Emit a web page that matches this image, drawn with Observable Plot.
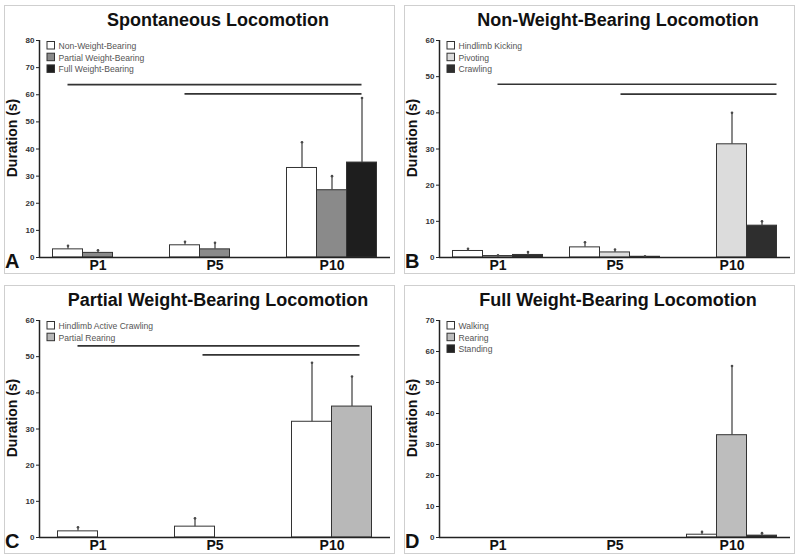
<!DOCTYPE html>
<html><head><meta charset="utf-8">
<script src="https://cdn.jsdelivr.net/npm/d3@7"></script>
<script src="https://cdn.jsdelivr.net/npm/@observablehq/plot@0.6"></script>
<style>
body{margin:0;background:#fff;}
#wrap{position:relative;width:800px;height:560px;}
#wrap > svg{position:absolute;overflow:visible;}
</style></head><body><div id="wrap"></div>
<script>
const ages = ["P1", "P5", "P10"];

// Panel A
const seriesA = ["Non-Weight-Bearing", "Partial Weight-Bearing", "Full Weight-Bearing"];
const colorsA = ["#ffffff", "#8a8a8a", "#1e1e1e"];
const meanA = [[3.0, 1.7, 0], [4.5, 3.0, 0], [33.0, 24.8, 35.0]];
const semA = [[1.3, 1.0, 0], [1.3, 2.4, 0], [9.5, 5.2, 23.8]];
const sigA = [{y: 63.7, from: ["P1", 0], to: ["P10", 2]}, {y: 60.3, from: ["P5", 0], to: ["P10", 2]}];

// Panel B
const seriesB = ["Hindlimb Kicking", "Pivoting", "Crawling"];
const colorsB = ["#ffffff", "#dcdcdc", "#2e2e2e"];
const meanB = [[1.8, 0.4, 0.7], [2.8, 1.4, 0.2], [0, 31.3, 8.8]];
const semB = [[0.6, 0.2, 0.8], [1.4, 0.8, 0.1], [0, 8.7, 1.2]];
const sigB = [{y: 47.9, from: ["P1", 1], to: ["P10", 2.5]}, {y: 45.2, from: ["P5", 1.2], to: ["P10", 2.5]}];

// Panel C
const seriesC = ["Hindlimb Active Crawling", "Partial Rearing"];
const colorsC = ["#ffffff", "#b8b8b8"];
const meanC = [[1.7, 0], [3.0, 0], [32.0, 36.2]];
const semC = [[1.1, 0], [2.3, 0], [16.3, 8.3]];
const sigC = [{y: 53.0, from: ["P1", 0], to: ["P10", 1.2]}, {y: 50.5, from: ["P5", 0.2], to: ["P10", 1.2]}];

// Panel D
const seriesD = ["Walking", "Rearing", "Standing"];
const colorsD = ["#ffffff", "#bdbdbd", "#222222"];
const meanD = [[0, 0, 0], [0, 0, 0], [0.9, 33.0, 0.6]];
const semD = [[0, 0, 0], [0, 0, 0], [0.9, 22.3, 0.8]];
const sigD = [];

const FONT = "'Liberation Sans', Arial, Helvetica, sans-serif";

function panel({left, top, title, letter, series, colors, means, sems, ymax, sig}) {
  const n = series.length;
  const bw = n === 3 ? 30 / 117 : 40 / 117;
  const pos = (ai, j) => ai + 0.5 + (j + 0.5 - n / 2) * bw;
  const rows = [];
  ages.forEach((age, ai) => series.forEach((s, j) => {
    const c = pos(ai, j);
    rows.push({age, series: s, x1: c - bw / 2, x2: c + bw / 2, xc: c,
      mean: means[ai][j], sem: sems[ai][j], top: means[ai][j] + sems[ai][j]});
  }));
  const bars = rows.filter(d => d.mean > 0);
  const errs = rows.filter(d => d.sem > 0);
  const sigRows = sig.map(s => ({y: s.y,
    x1: pos(ages.indexOf(s.from[0]), s.from[1]),
    x2: pos(ages.indexOf(s.to[0]), s.to[1])}));

  const svg = Plot.plot({
    width: 400, height: 280,
    marginLeft: 39, marginRight: 10, marginTop: 40, marginBottom: 23,
    style: {fontFamily: FONT, background: "transparent", overflow: "visible"},
    x: {domain: [0, 3], axis: null},
    y: {domain: [0, ymax], axis: null},
    color: {domain: series, range: colors},
    marks: [
      Plot.rect(bars, {x1: "x1", x2: "x2", y1: 0, y2: "mean", fill: "series", stroke: "#333", strokeWidth: 1}),
      Plot.ruleX(errs, {x: "xc", y1: "mean", y2: "top", stroke: "#4a4a4a", strokeWidth: 1.3}),
      Plot.dot(errs, {x: "xc", y: "top", r: 1.3, fill: "#4a4a4a", stroke: null}),
      Plot.ruleY(sigRows, {y: "y", x1: "x1", x2: "x2", stroke: "#333", strokeWidth: 1.7}),
      Plot.ruleX([0], {stroke: "#222", strokeWidth: 1.5}),
      Plot.ruleY([0], {stroke: "#222", strokeWidth: 1.5}),
      Plot.axisY({ticks: d3.range(0, ymax + 1, 10), tickSize: 3, tickPadding: 2,
        fontSize: 8, fontWeight: "bold", fill: "#333", stroke: "#222", label: null}),
      Plot.axisX({ticks: ages.map((a, i) => i + 0.5), tickFormat: d => ages[Math.floor(d)],
        tickSize: 0, tickPadding: 3, fontSize: 14, fontWeight: "bold", fill: "#111", label: null})
    ]
  });
  svg.style.left = left + "px";
  svg.style.top = top + "px";
  const g = d3.select(svg);
  g.insert("rect", ":first-child")
    .attr("x", 4.5).attr("y", 5.5).attr("width", 390).attr("height", 268)
    .attr("fill", "none").attr("stroke", "#cfcfcf").attr("stroke-width", 1);
  g.append("text").attr("x", 218).attr("y", 26).attr("text-anchor", "middle")
    .attr("font-family", FONT).attr("font-size", 18).attr("font-weight", "bold").attr("fill", "#111")
    .text(title);
  g.append("text").attr("x", 5).attr("y", 267.5).attr("text-anchor", "start")
    .attr("font-family", FONT).attr("font-size", 20).attr("font-weight", "bold").attr("fill", "#111")
    .text(letter);
  g.append("text").attr("transform", "translate(17,138) rotate(-90)").attr("text-anchor", "middle")
    .attr("font-family", FONT).attr("font-size", 14).attr("font-weight", "bold").attr("fill", "#111")
    .text("Duration (s)");
  const lg = g.append("g").attr("text-anchor", "start");
  series.forEach((s, j) => {
    const y = 41.5 + j * 11.7;
    lg.append("rect").attr("x", 47).attr("y", y).attr("width", 7.5).attr("height", 7.5)
      .attr("fill", colors[j]).attr("stroke", "#333").attr("stroke-width", 1);
    lg.append("text").attr("x", 58.5).attr("y", y + 7.3).attr("text-anchor", "start")
      .attr("font-family", FONT).attr("font-size", 8.6).attr("fill", "#555").text(s);
  });
  document.getElementById("wrap").appendChild(svg);
}

panel({left: 0, top: 0, title: "Spontaneous Locomotion", letter: "A", series: seriesA, colors: colorsA, means: meanA, sems: semA, ymax: 80, sig: sigA});
panel({left: 400, top: 0, title: "Non-Weight-Bearing Locomotion", letter: "B", series: seriesB, colors: colorsB, means: meanB, sems: semB, ymax: 60, sig: sigB});
panel({left: 0, top: 280, title: "Partial Weight-Bearing Locomotion", letter: "C", series: seriesC, colors: colorsC, means: meanC, sems: semC, ymax: 60, sig: sigC});
panel({left: 400, top: 280, title: "Full Weight-Bearing Locomotion", letter: "D", series: seriesD, colors: colorsD, means: meanD, sems: semD, ymax: 70, sig: sigD});
</script></body></html>
